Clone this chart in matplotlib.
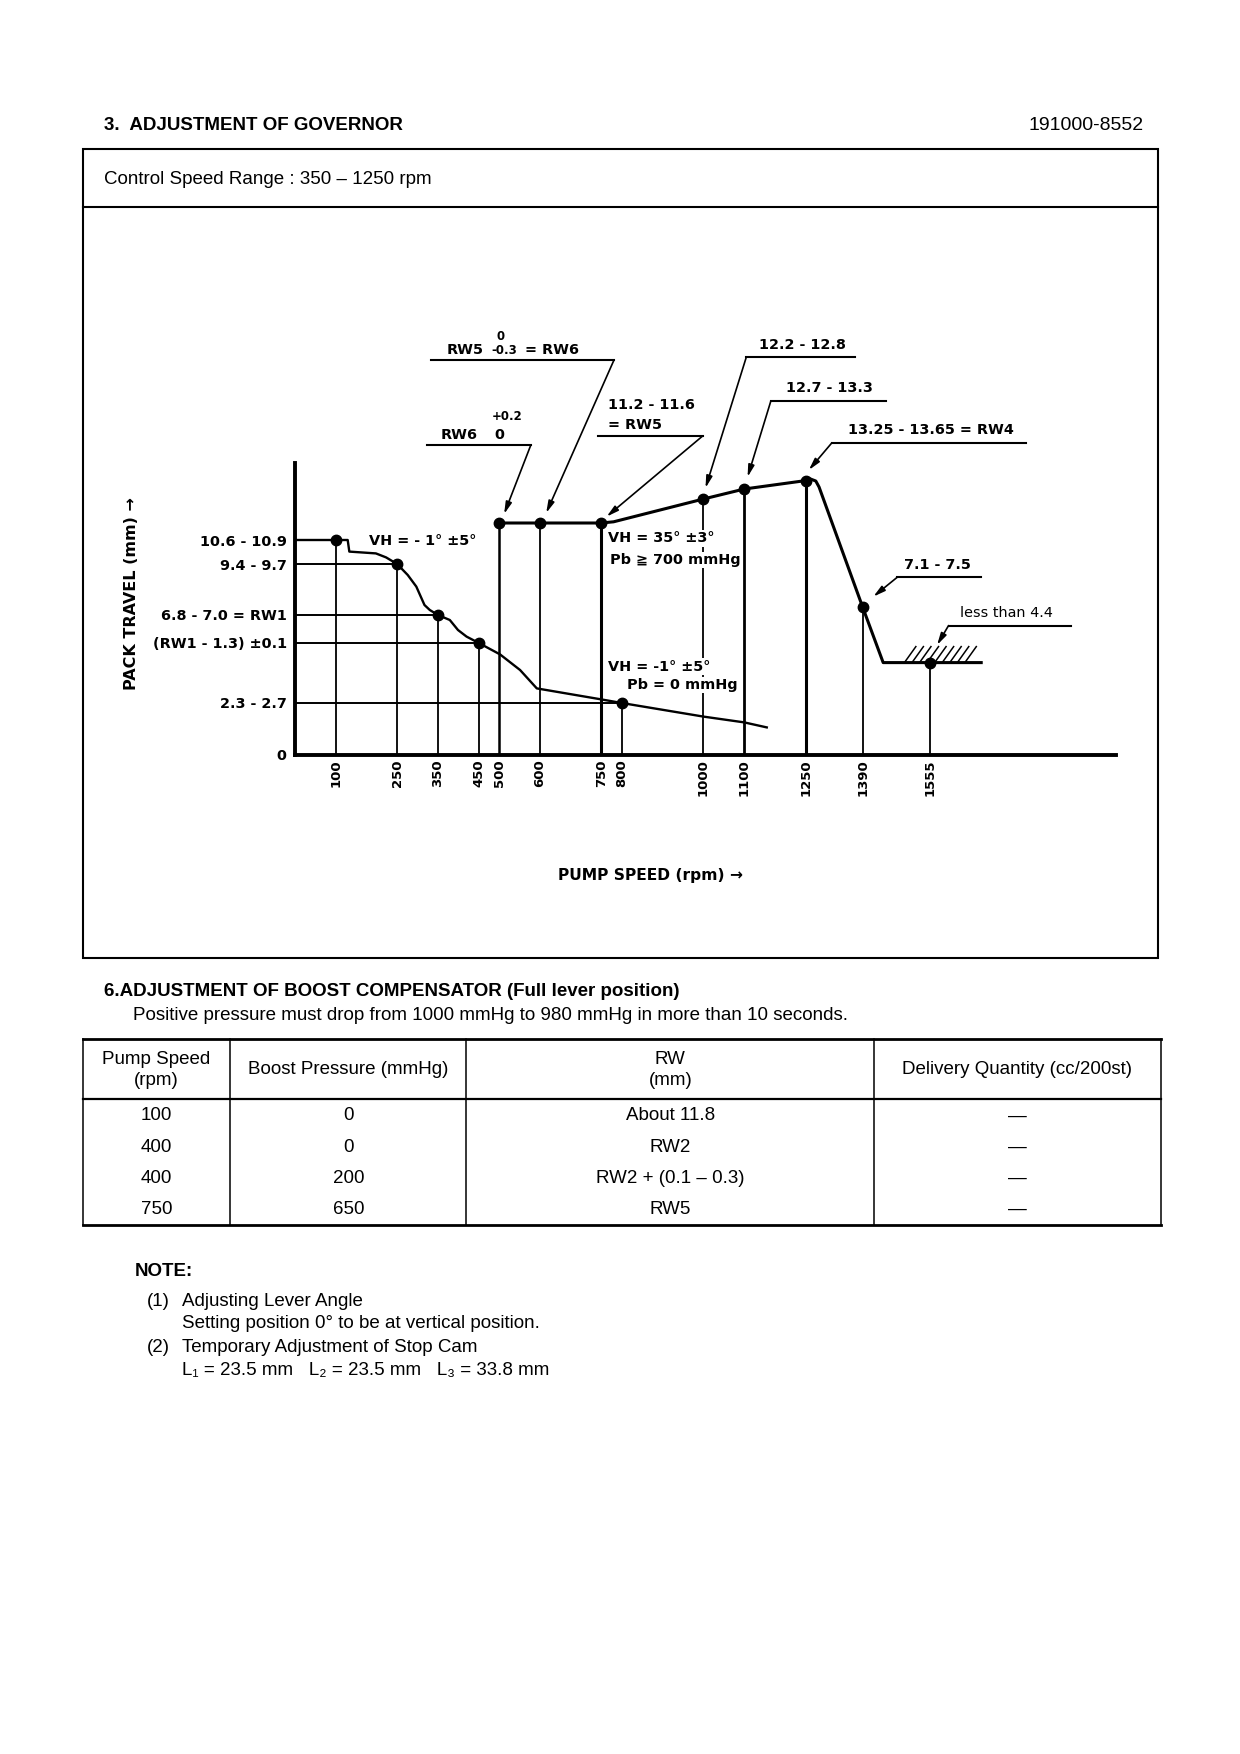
import numpy as np
import matplotlib.pyplot as plt
from matplotlib.lines import Line2D
from matplotlib.patches import Rectangle

W, H = 1240, 1754

# governor diagram: pump speed (rpm) against rack travel (mm)
point_rpm = [100, 250, 350, 450, 500, 600, 750, 800, 1000, 1100, 1250, 1390, 1555]
point_mm = [10.75, 9.55, 7.0, 5.6, 11.6, 11.6, 11.6, 2.6, 12.8, 13.3, 13.72, 7.38, 4.62]

# VH = -1 deg, Pb = 0 mmHg
low_rpm = [0, 129, 133, 198, 223, 250, 276, 297, 317, 330, 350, 379, 399, 420, 450,
           502, 551, 592, 750, 800, 1000, 1100, 1155]
low_mm = [10.75, 10.75, 10.17, 10.08, 9.88, 9.55, 9.0, 8.42, 7.5, 7.25, 7.0, 6.75, 6.25, 5.92, 5.6,
          5.03, 4.25, 3.33, 2.78, 2.6, 1.92, 1.63, 1.38]

# VH = 35 deg, Pb >= 700 mmHg
full_rpm = [500, 750, 780, 1000, 1100, 1250, 1262, 1275, 1283, 1390, 1440, 1680]
full_mm = [11.6, 11.6, 11.66, 12.8, 13.3, 13.72, 13.8, 13.7, 13.4, 7.38, 4.62, 4.62]

# horizontal guides from the rack axis to these points
guide_rpm = [100, 250, 350, 450, 800]
ytick_mm = [10.75, 9.55, 7.0, 5.6, 2.6, 0]
ytick_labels = ["10.6 - 10.9", "9.4 - 9.7", "6.8 - 7.0 = RW1", "(RW1 - 1.3) ±0.1", "2.3 - 2.7", "0"]

# boost compensator table
tbl_head = ["Pump Speed\n(rpm)", "Boost Pressure (mmHg)", "RW\n(mm)", "Delivery Quantity (cc/200st)"]
tbl_speed = ["100", "400", "400", "750"]
tbl_boost = ["0", "0", "200", "650"]
tbl_rw = ["About 11.8", "RW2", "RW2 + (0.1 \u2013 0.3)", "RW5"]
tbl_delivery = ["\u2014", "\u2014", "\u2014", "\u2014"]

plt.rcParams['font.family'] = ['Liberation Sans', 'DejaVu Sans']
CH = ['DejaVu Sans']

fig = plt.figure(figsize=(W / 100, H / 100), dpi=100)


def fx(x):
    return x / W


def fy(y):
    return 1 - y / H


def fline(xs, ys, lw):
    fig.add_artist(Line2D([fx(v) for v in xs], [fy(v) for v in ys], color='k', lw=lw,
                          solid_capstyle='projecting'))


def ftext(x, y, s, **kw):
    kw.setdefault('fontsize', 13.5)
    kw.setdefault('va', 'center')
    fig.text(fx(x), fy(y), s, **kw)


# ---------- page header ----------
ftext(104, 125, "3.  ADJUSTMENT OF GOVERNOR", fontweight='bold')
ftext(1144, 125, "191000-8552", ha='right', fontsize=14)
fig.add_artist(Rectangle((fx(82.7), fy(958.2)), fx(1158.4) - fx(82.7), fy(148.7) - fy(958.2),
                         transform=fig.transFigure, fill=False, lw=1.5, ec='k'))
fline([82.7, 1158.4], [206.8, 206.8], 1.5)
ftext(104, 179, "Control Speed Range : 350 \u2013 1250 rpm")

# ---------- governor diagram ----------
ax = fig.add_axes([fx(295), fy(755), fx(1116) - fx(295), fy(463) - fy(755)])
ax.set_xlim(0, 2010)
ax.set_ylim(0, 14.6)
for s in ['top', 'right']:
    ax.spines[s].set_visible(False)
ax.spines['left'].set_linewidth(2.8)
ax.spines['bottom'].set_linewidth(2.8)

pt = dict(zip(point_rpm, point_mm))
thick = {500: 1.8, 750: 2.2, 1100: 2.0, 1250: 2.2}
for r, m in zip(point_rpm, point_mm):
    ax.plot([r, r], [0, m], color='k', lw=thick.get(r, 1.3), zorder=2)
for r in guide_rpm:
    ax.plot([0, r], [pt[r], pt[r]], color='k', lw=1.4, zorder=2)

ax.plot(low_rpm, low_mm, color='k', lw=1.7, zorder=3)
ax.plot(full_rpm, full_mm, color='k', lw=2.2, zorder=3)
ax.plot(point_rpm, point_mm, 'o', color='k', ms=7.5, zorder=4)

# hatching over the idle stop line
stop_mm = full_mm[-1]
for hx in np.linspace(1492, 1640, 9):
    ax.plot([hx, hx + 28], [stop_mm, stop_mm + 0.8], color='k', lw=1.1, zorder=2)

ax.set_xticks(point_rpm, [str(v) for v in point_rpm], rotation=90, family=CH,
              fontweight='bold', fontsize=9.5)
ax.set_yticks(ytick_mm, ytick_labels, family=CH, fontweight='bold', fontsize=10.4)
ax.tick_params(axis='x', length=0, pad=3)
ax.tick_params(axis='y', length=0, pad=6)

ct = dict(family=CH, fontweight='bold', fontsize=10.4, va='center', clip_on=False)
box = dict(facecolor='white', edgecolor='none', pad=1)
ax.text(181, 10.7, "VH = - 1\u00b0 \u00b15\u00b0", zorder=5, **ct)
ax.text(766, 10.83, "VH = 35\u00b0 \u00b13\u00b0", bbox=box, zorder=5, **ct)
ax.text(771, 9.75, "Pb \u2267 700 mmHg", bbox=box, zorder=5, **ct)
ax.text(766, 4.42, "VH = -1\u00b0 \u00b15\u00b0", bbox=box, zorder=5, **ct)
ax.text(813, 3.5, "Pb = 0 mmHg", bbox=box, zorder=5, **ct)


def callout(x0, x1, y, side, tip):
    ax.plot([x0, x1], [y, y], color='k', lw=1.5, clip_on=False)
    ex = x1 if side == 'r' else x0
    ax.annotate('', xy=tip, xytext=(ex, y), annotation_clip=False,
                arrowprops=dict(arrowstyle='-|>,head_length=0.7,head_width=0.18',
                                color='k', lw=1.2, shrinkA=0, shrinkB=0))


callout(324, 577, 15.48, 'r', (512, 12.05))
callout(332, 781, 19.75, 'r', (615, 12.1))
callout(741, 998, 15.95, 'r', (763, 11.92))
callout(1105, 1370, 19.9, 'l', (1005, 13.35))
callout(1165, 1447, 17.7, 'l', (1108, 13.9))
callout(1314, 1789, 15.6, 'l', (1258, 14.25))
callout(1474, 1680, 8.88, 'l', (1416, 7.92))
callout(1600, 1900, 6.47, 'l', (1572, 5.5))

small = dict(ct, fontsize=8.5)
ax.text(357, 16.0, "RW6", **ct)
ax.text(487, 16.0, "0", **ct)
ax.text(482, 16.9, "+0.2", **small)
ax.text(370, 20.25, "RW5", **ct)
ax.text(494, 20.95, "0", **small)
ax.text(480, 20.2, "-0.3", **small)
ax.text(562, 20.25, "= RW6", **ct)
ax.text(767, 17.5, "11.2 - 11.6", **ct)
ax.text(767, 16.5, "= RW5", **ct)
ax.text(1135, 20.5, "12.2 - 12.8", **ct)
ax.text(1203, 18.33, "12.7 - 13.3", **ct)
ax.text(1353, 16.25, "13.25 - 13.65 = RW4", **ct)
ax.text(1492, 9.5, "7.1 - 7.5", **ct)
ax.text(1628, 7.08, "less than 4.4", **dict(ct, fontweight='normal'))

ftext(132, 594, "PACK TRAVEL (mm) \u2192", rotation=90, ha='center', family=CH,
      fontweight='bold', fontsize=11.5)
ftext(650, 875.5, "PUMP SPEED (rpm) \u2192", ha='center', family=CH, fontweight='bold',
      fontsize=11.2)

# ---------- boost compensator ----------
ftext(104, 991.7, "6.ADJUSTMENT OF BOOST COMPENSATOR (Full lever position)", fontweight='bold')
ftext(133, 1015.2, "Positive pressure must drop from 1000 mmHg to 980 mmHg in more than 10 seconds.")

tx = [82.7, 230.3, 466.2, 874.4, 1160.6]
ty = [1038.7, 1099, 1225.4]
fline([tx[0], tx[-1]], [ty[0], ty[0]], 2.0)
fline([tx[0], tx[-1]], [ty[1], ty[1]], 1.6)
fline([tx[0], tx[-1]], [ty[2], ty[2]], 2.0)
for x in tx:
    fline([x, x], [ty[0], ty[2]], 1.1)

col_c = [(a + b) / 2 for a, b in zip(tx[:-1], tx[1:])]
for c, h in zip(col_c, tbl_head):
    ftext(c, 1070, h, ha='center', linespacing=1.35)
row_y = [1115.9, 1147.2, 1178.5, 1209.8]
for i, y in enumerate(row_y):
    for c, col in zip(col_c, [tbl_speed, tbl_boost, tbl_rw, tbl_delivery]):
        ftext(c, y, col[i], ha='center')

# ---------- notes ----------
ftext(135, 1271.3, "NOTE:", fontweight='bold')
ftext(146.5, 1301.5, "(1)")
ftext(182, 1301.5, "Adjusting Lever Angle")
ftext(182, 1323.8, "Setting position 0\u00b0 to be at vertical position.")
ftext(146.5, 1347.3, "(2)")
ftext(182, 1347.3, "Temporary Adjustment of Stop Cam")
ftext(182, 1370.8, "L\u2081 = 23.5 mm   L\u2082 = 23.5 mm   L\u2083 = 33.8 mm")

fig.savefig('out.png', dpi=100)
